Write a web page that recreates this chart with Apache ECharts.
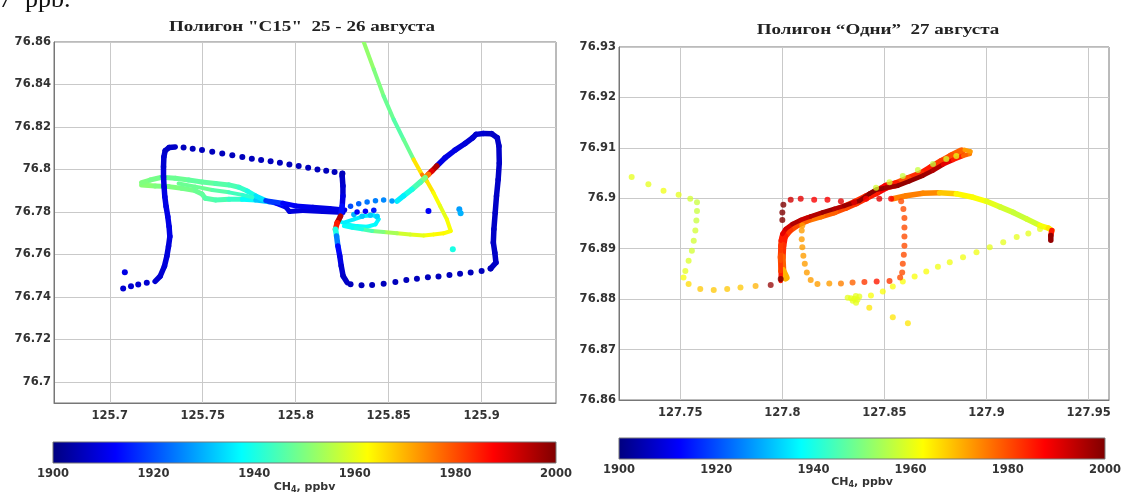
<!DOCTYPE html>
<html>
<head>
<meta charset="utf-8">
<script src="https://cdn.jsdelivr.net/npm/echarts@6/dist/echarts.min.js"></script>
<style>
  html, body { margin: 0; padding: 0; background: #fff; }
  #chart { width: 1124px; height: 498px; }
</style>
</head>
<body>
<div id="chart"></div>
<script>
// CH4 colour scale (jet) and its ticks
const JET = ['#00007f', '#0000ff', '#007fff', '#00ffff', '#7fff7f', '#ffff00', '#ff7f00', '#ff0000', '#7f0000'];
const CH4_MIN = 1900;
const CH4_MAX = 2000;
const CH4_TICKS = [1900, 1920, 1940, 1960, 1980, 2000];

// Axis ranges and ticks, polygon "C15"
const C15_LON_RANGE = [125.67, 125.94];
const C15_LAT_RANGE = [76.69, 76.86];
const C15_LON_TICKS = [125.7, 125.75, 125.8, 125.85, 125.9];
const C15_LAT_TICKS = [76.7, 76.72, 76.74, 76.76, 76.78, 76.8, 76.82, 76.84, 76.86];

// Axis ranges and ticks, polygon "Odni"
const ODNI_LON_RANGE = [127.72, 127.96];
const ODNI_LAT_RANGE = [76.86, 76.93];
const ODNI_LON_TICKS = [127.75, 127.8, 127.85, 127.9, 127.95];
const ODNI_LAT_TICKS = [76.86, 76.87, 76.88, 76.89, 76.9, 76.91, 76.92, 76.93];

// ---- Polygon "C15", 25-26 August: [lon, lat, CH4 ppbv] ----
const c15BandA = [
  [125.7171, 76.7938, 1950], [125.7217, 76.7950, 1950], [125.7280, 76.7963, 1949], [125.7352, 76.7958, 1948],
  [125.7424, 76.7950, 1948], [125.7496, 76.7941, 1947], [125.7569, 76.7934, 1947], [125.7641, 76.7927, 1946],
  [125.7695, 76.7916, 1945], [125.7740, 76.7898, 1943], [125.7785, 76.7875, 1940], [125.7839, 76.7853, 1935],
  [125.7930, 76.7841, 1918], [125.8002, 76.7828, 1912], [125.8092, 76.7822, 1911], [125.8182, 76.7816, 1910],
  [125.8264, 76.7809, 1910]
];
const c15BandB = [
  [125.7171, 76.7927, 1952], [125.7244, 76.7922, 1951], [125.7316, 76.7919, 1950], [125.7388, 76.7911, 1950],
  [125.7460, 76.7900, 1949], [125.7496, 76.7884, 1948], [125.7514, 76.7864, 1947], [125.7569, 76.7856, 1946],
  [125.7641, 76.7859, 1945], [125.7713, 76.7859, 1943], [125.7785, 76.7856, 1938], [125.7857, 76.7848, 1932],
  [125.7894, 76.7841, 1920], [125.7948, 76.7822, 1912], [125.7966, 76.7802, 1910], [125.8038, 76.7806, 1909],
  [125.8146, 76.7802, 1909], [125.8255, 76.7797, 1909]
];
const c15BandC = [
  [125.7370, 76.7934, 1949], [125.7460, 76.7919, 1948], [125.7551, 76.7903, 1948], [125.7641, 76.7892, 1946],
  [125.7713, 76.7880, 1944], [125.7767, 76.7869, 1942]
];
const c15Loop = [
  [125.8232, 76.7757, 1936], [125.8277, 76.7741, 1937], [125.8330, 76.7733, 1938], [125.8384, 76.7730, 1938],
  [125.8429, 76.7741, 1938], [125.8446, 76.7765, 1937], [125.8420, 76.7784, 1936], [125.8366, 76.7780, 1936],
  [125.8313, 76.7765, 1936], [125.8259, 76.7749, 1936]
];
const c15LoopDots = [
  [125.8518, 76.7851, 1928], [125.8473, 76.7856, 1926], [125.8429, 76.7853, 1925], [125.8384, 76.7846, 1924],
  [125.8339, 76.7838, 1922], [125.8295, 76.7827, 1920], [125.8313, 76.7788, 1930], [125.8357, 76.7780, 1932],
  [125.8402, 76.7784, 1932], [125.8438, 76.7780, 1933], [125.8330, 76.7800, 1912], [125.8375, 76.7803, 1912],
  [125.8420, 76.7808, 1915]
];
const c15Transit = [
  [125.8366, 76.8600, 1955], [125.8420, 76.8471, 1952], [125.8473, 76.8345, 1950], [125.8527, 76.8235, 1948],
  [125.8580, 76.8141, 1946], [125.8634, 76.8047, 1948], [125.8679, 76.7976, 1965], [125.8705, 76.7945, 1975],
  [125.8741, 76.7890, 1965], [125.8777, 76.7827, 1962], [125.8813, 76.7765, 1960], [125.8834, 76.7710, 1962],
  [125.8795, 76.7699, 1962], [125.8741, 76.7694, 1963], [125.8688, 76.7689, 1962], [125.8616, 76.7693, 1960],
  [125.8545, 76.7699, 1958], [125.8473, 76.7705, 1954], [125.8411, 76.7710, 1950], [125.8357, 76.7718, 1945],
  [125.8304, 76.7725, 1940], [125.8259, 76.7733, 1938]
];
const c15Start = [
  [125.7081, 76.7516, 1910], [125.7072, 76.7439, 1908], [125.7114, 76.7450, 1908], [125.7153, 76.7458, 1908],
  [125.7199, 76.7466, 1908]
];
const c15WestLeg = [
  [125.7244, 76.7473, 1908], [125.7271, 76.7497, 1908], [125.7294, 76.7544, 1908], [125.7307, 76.7591, 1909],
  [125.7316, 76.7638, 1909], [125.7323, 76.7684, 1909], [125.7319, 76.7731, 1910], [125.7312, 76.7778, 1910],
  [125.7303, 76.7825, 1910], [125.7296, 76.7872, 1910], [125.7292, 76.7919, 1910], [125.7289, 76.7966, 1909],
  [125.7289, 76.8013, 1909], [125.7291, 76.8059, 1908], [125.7298, 76.8088, 1908], [125.7319, 76.8103, 1907],
  [125.7352, 76.8106, 1907]
];
const c15NorthLeg = [
  [125.7397, 76.8103, 1906], [125.7446, 76.8097, 1906], [125.7496, 76.8091, 1906], [125.7551, 76.8083, 1906],
  [125.7605, 76.8075, 1906], [125.7659, 76.8067, 1906], [125.7713, 76.8058, 1906], [125.7764, 76.8050, 1906],
  [125.7814, 76.8044, 1906], [125.7865, 76.8038, 1906], [125.7915, 76.8031, 1906], [125.7966, 76.8023, 1906],
  [125.8016, 76.8016, 1906], [125.8067, 76.8008, 1906], [125.8117, 76.8000, 1906], [125.8164, 76.7994, 1906],
  [125.8209, 76.7988, 1906], [125.8251, 76.7981, 1906]
];
const c15CentreLeg = [
  [125.8251, 76.7981, 1906], [125.8250, 76.7969, 1906], [125.8254, 76.7922, 1907], [125.8254, 76.7875, 1908],
  [125.8250, 76.7827, 1910], [125.8241, 76.7780, 1914], [125.8223, 76.7749, 1995], [125.8214, 76.7718, 1985],
  [125.8220, 76.7686, 1940], [125.8227, 76.7639, 1925], [125.8237, 76.7592, 1913], [125.8245, 76.7545, 1910],
  [125.8255, 76.7498, 1908], [125.8277, 76.7467, 1907]
];
const c15SouthLeg = [
  [125.8295, 76.7459, 1906], [125.8354, 76.7454, 1906], [125.8411, 76.7456, 1906], [125.8473, 76.7462, 1906],
  [125.8536, 76.7470, 1906], [125.8595, 76.7479, 1906], [125.8652, 76.7485, 1906], [125.8711, 76.7492, 1906],
  [125.8768, 76.7496, 1906], [125.8827, 76.7503, 1906], [125.8884, 76.7509, 1906], [125.8941, 76.7515, 1906],
  [125.9000, 76.7522, 1906], [125.9048, 76.7533, 1906]
];
const c15EastLeg = [
  [125.9048, 76.7533, 1907], [125.9077, 76.7561, 1907], [125.9071, 76.7608, 1907], [125.9063, 76.7655, 1907],
  [125.9066, 76.7718, 1907], [125.9073, 76.7796, 1907], [125.9080, 76.7875, 1907], [125.9089, 76.7953, 1907],
  [125.9095, 76.8031, 1907], [125.9093, 76.8110, 1907], [125.9084, 76.8149, 1907], [125.9054, 76.8168, 1907],
  [125.9009, 76.8169, 1907], [125.8970, 76.8165, 1908], [125.8952, 76.8149, 1908], [125.8911, 76.8122, 1908],
  [125.8857, 76.8091, 1909], [125.8804, 76.8055, 1910], [125.8759, 76.8016, 1910], [125.8732, 76.7992, 1995],
  [125.8714, 76.7977, 1990], [125.8696, 76.7961, 1975], [125.8670, 76.7940, 1950], [125.8625, 76.7906, 1945],
  [125.8580, 76.7875, 1940], [125.8545, 76.7851, 1936]
];
const c15Spots = [
  [125.8714, 76.7804, 1912], [125.8880, 76.7812, 1928], [125.8887, 76.7793, 1930], [125.8845, 76.7624, 1940]
];

// ---- Polygon "Odni", 27 August: [lon, lat, CH4 ppbv] ----
const odniWestDots = [
  [127.7262, 76.9042, 1960], [127.7344, 76.9028, 1960], [127.7418, 76.9015, 1961], [127.7492, 76.9007, 1960],
  [127.7549, 76.8999, 1958], [127.7582, 76.8992, 1957], [127.7582, 76.8975, 1957], [127.7579, 76.8956, 1957],
  [127.7574, 76.8936, 1958], [127.7566, 76.8916, 1958], [127.7557, 76.8896, 1958], [127.7541, 76.8876, 1959],
  [127.7525, 76.8856, 1960], [127.7516, 76.8843, 1962], [127.7541, 76.8830, 1966], [127.7598, 76.8820, 1968],
  [127.7664, 76.8818, 1968], [127.7730, 76.8820, 1968], [127.7795, 76.8823, 1968], [127.7869, 76.8826, 1970],
  [127.7943, 76.8828, 1998]
];
const odniBoxDots = [
  [127.7992, 76.8840, 2000], [127.8000, 76.8957, 2000], [127.8000, 76.8972, 2000], [127.8005, 76.8987, 2000],
  [127.8041, 76.8997, 1992], [127.8090, 76.8999, 1990], [127.8156, 76.8997, 1988], [127.8221, 76.8997, 1988],
  [127.8287, 76.8994, 1990], [127.8352, 76.8992, 1990], [127.8410, 76.8999, 1988], [127.8475, 76.8999, 1990],
  [127.8533, 76.8999, 1988],
  [127.8582, 76.8994, 1980], [127.8593, 76.8979, 1980], [127.8598, 76.8961, 1980], [127.8598, 76.8942, 1980],
  [127.8598, 76.8924, 1980], [127.8598, 76.8906, 1980], [127.8595, 76.8888, 1980], [127.8590, 76.8870, 1980],
  [127.8587, 76.8853, 1980], [127.8577, 76.8843, 1980],
  [127.8525, 76.8836, 1982], [127.8462, 76.8835, 1985], [127.8402, 76.8834, 1982], [127.8344, 76.8833, 1978],
  [127.8287, 76.8831, 1975], [127.8230, 76.8831, 1972], [127.8172, 76.8830, 1972],
  [127.8139, 76.8838, 1972], [127.8120, 76.8853, 1972], [127.8110, 76.8870, 1972], [127.8103, 76.8886, 1972],
  [127.8098, 76.8903, 1972], [127.8095, 76.8919, 1972], [127.8095, 76.8936, 1972], [127.8098, 76.8946, 1972]
];
const odniTrackOrange = [
  [127.8877, 76.9093, 1975], [127.8828, 76.9083, 1978], [127.8779, 76.9072, 1980], [127.8730, 76.9060, 1982],
  [127.8680, 76.9048, 1985], [127.8615, 76.9038, 1983], [127.8557, 76.9028, 1980], [127.8508, 76.9023, 1985],
  [127.8459, 76.9012, 1988], [127.8410, 76.9002, 1985], [127.8361, 76.8992, 1983], [127.8311, 76.8983, 1982],
  [127.8254, 76.8974, 1980], [127.8189, 76.8966, 1978], [127.8123, 76.8958, 1976], [127.8074, 76.8949, 1978],
  [127.8033, 76.8937, 1980], [127.8008, 76.8924, 1982], [127.8000, 76.8906, 1985], [127.7997, 76.8883, 1983],
  [127.8000, 76.8856, 1978], [127.8016, 76.8843, 1970]
];
const odniTrackDark = [
  [127.7992, 76.8836, 1985], [127.7992, 76.8856, 1985], [127.7992, 76.8876, 1982], [127.7992, 76.8896, 1980],
  [127.7992, 76.8916, 1982], [127.8000, 76.8929, 1985], [127.8016, 76.8939, 1990], [127.8049, 76.8949, 1992],
  [127.8090, 76.8957, 1995], [127.8139, 76.8964, 1993], [127.8197, 76.8972, 1995], [127.8254, 76.8979, 1997],
  [127.8303, 76.8985, 1995], [127.8352, 76.8992, 1997], [127.8377, 76.8995, 1998], [127.8426, 76.9009, 1998],
  [127.8459, 76.9017, 1999], [127.8508, 76.9021, 1998], [127.8566, 76.9025, 1997], [127.8623, 76.9034, 1998],
  [127.8689, 76.9045, 1998], [127.8738, 76.9055, 1997], [127.8787, 76.9067, 1995], [127.8836, 76.9076, 1990],
  [127.8885, 76.9084, 1985], [127.8918, 76.9088, 1978], [127.8921, 76.9093, 1975], [127.8893, 76.9096, 1972]
];
const odniEastLine = [
  [127.8541, 76.8999, 1978], [127.8607, 76.9005, 1975], [127.8689, 76.9010, 1975], [127.8770, 76.9011, 1974],
  [127.8852, 76.9009, 1968], [127.8934, 76.9002, 1963], [127.9000, 76.8994, 1962], [127.9066, 76.8983, 1960],
  [127.9131, 76.8972, 1958], [127.9197, 76.8959, 1957], [127.9262, 76.8946, 1958], [127.9303, 76.8941, 1962],
  [127.9320, 76.8936, 1965], [127.9315, 76.8926, 1985], [127.9315, 76.8917, 1998]
];
const odniReturnDots = [
  [127.9262, 76.8939, 1960], [127.9205, 76.8930, 1960], [127.9148, 76.8923, 1960], [127.9082, 76.8913, 1960],
  [127.9016, 76.8903, 1960], [127.8951, 76.8893, 1961], [127.8885, 76.8883, 1961], [127.8820, 76.8873, 1961],
  [127.8762, 76.8864, 1961], [127.8705, 76.8855, 1962], [127.8648, 76.8845, 1962], [127.8590, 76.8835, 1962],
  [127.8541, 76.8825, 1962], [127.8492, 76.8815, 1962], [127.8434, 76.8807, 1962],
  [127.8377, 76.8805, 1960], [127.8360, 76.8806, 1960], [127.8352, 76.8801, 1960], [127.8336, 76.8802, 1960],
  [127.8320, 76.8803, 1960], [127.8345, 76.8797, 1960], [127.8361, 76.8793, 1960], [127.8368, 76.8799, 1960],
  [127.8426, 76.8783, 1965], [127.8541, 76.8764, 1965], [127.8615, 76.8752, 1965]
];
const odniUpperDots = [
  [127.8459, 76.9021, 1958], [127.8525, 76.9032, 1958], [127.8590, 76.9044, 1957], [127.8664, 76.9056, 1957],
  [127.8738, 76.9068, 1956], [127.8803, 76.9078, 1958], [127.8852, 76.9084, 1960]
];

// ---- helpers ----
const LABEL_FONT = { fontFamily: 'DejaVu Sans', fontWeight: 'bold', fontSize: 11.5, color: '#333' };

function fmt(v) { return String(+(+v).toFixed(3)); }

function geoAxis(gridIndex, range, ticks, margin) {
  return {
    type: 'value', gridIndex, min: range[0], max: range[1],
    axisLine: { show: true, onZero: false, lineStyle: { color: '#777', width: 1 } },
    axisTick: { show: false, customValues: ticks },
    axisLabel: Object.assign({ customValues: ticks, formatter: fmt, margin }, LABEL_FONT),
    splitLine: { show: true, lineStyle: { color: '#c9c9c9', width: 1 } }
  };
}

// continuous track: each point joined to the previous one, coloured by its CH4 value
function track(data, axis, width) {
  return {
    type: 'custom', xAxisIndex: axis, yAxisIndex: axis, clip: true, silent: true,
    encode: { x: 0, y: 1 }, data,
    renderItem(params, api) {
      const i = params.dataIndex;
      const prev = data[i > 0 ? i - 1 : i];
      const p = api.coord([api.value(0), api.value(1)]);
      const q = api.coord([prev[0], prev[1]]);
      return {
        type: 'line',
        shape: { x1: q[0], y1: q[1], x2: p[0], y2: p[1] },
        style: { stroke: api.visual('color'), lineWidth: width, lineCap: 'round' }
      };
    }
  };
}

// sampled fixes drawn as separate dots
function dots(data, axis, size, opacity) {
  return {
    type: 'scatter', xAxisIndex: axis, yAxisIndex: axis, silent: true,
    symbol: 'circle', symbolSize: size, data,
    itemStyle: { opacity: opacity }
  };
}

// colour bar drawn on its own CH4 axis
function colourBar(axis) {
  return {
    type: 'custom', xAxisIndex: axis, yAxisIndex: axis, silent: true,
    data: [[CH4_MIN, CH4_MAX]],
    renderItem(params, api) {
      const a = api.coord([api.value(0), 0]);
      const b = api.coord([api.value(1), 1]);
      return {
        type: 'rect',
        shape: { x: a[0], y: b[1], width: b[0] - a[0], height: a[1] - b[1] },
        style: {
          fill: {
            type: 'linear', x: 0, y: 0, x2: 1, y2: 0,
            colorStops: JET.map((c, k) => ({ offset: k / (JET.length - 1), color: c }))
          },
          stroke: '#777', lineWidth: 1
        }
      };
    }
  };
}

function ch4Axis(gridIndex, nameGap) {
  return {
    type: 'value', gridIndex, min: CH4_MIN, max: CH4_MAX, interval: 20,
    axisLine: { show: false },
    axisTick: { show: false, customValues: CH4_TICKS },
    axisLabel: Object.assign({ margin: 5, customValues: CH4_TICKS, formatter: v => String(v) }, LABEL_FONT),
    splitLine: { show: false },
    name: '{a|CH}{s|4}{a|, ppbv}', nameLocation: 'middle', nameGap,
    nameTextStyle: {
      rich: {
        a: { fontFamily: 'DejaVu Sans', fontWeight: 'bold', fontSize: 11, color: '#333', lineHeight: 14 },
        s: { fontFamily: 'DejaVu Sans', fontWeight: 'bold', fontSize: 8, color: '#333', lineHeight: 6, verticalAlign: 'bottom' }
      }
    }
  };
}

function barYAxis(gridIndex) {
  return { type: 'value', gridIndex, min: 0, max: 1, show: false };
}

const dataSeries = [
  // C15
  track(c15BandB, 0, 5),
  track(c15BandA, 0, 5),
  track(c15BandC, 0, 4),
  track(c15Loop, 0, 4),
  dots(c15LoopDots, 0, 5.5, 1),
  track(c15Transit, 0, 4),
  dots(c15Start, 0, 6, 1),
  track(c15WestLeg, 0, 5.5),
  dots(c15NorthLeg, 0, 6, 1),
  track(c15CentreLeg, 0, 5.5),
  dots(c15SouthLeg, 0, 6, 1),
  track(c15EastLeg, 0, 5.5),
  dots(c15Spots, 0, 6, 1),
  // Odni
  dots(odniWestDots, 1, 6, 0.75),
  dots(odniReturnDots, 1, 6, 0.75),
  dots(odniUpperDots, 1, 6, 0.75),
  dots(odniBoxDots, 1, 6, 0.8),
  track(odniEastLine, 1, 5.5),
  track(odniTrackOrange, 1, 8),
  track(odniTrackDark, 1, 4.5)
];

const option = {
  animation: false,
  backgroundColor: '#fff',
  grid: [
    { left: 54, top: 42, width: 502, height: 361, show: true, borderColor: '#777', borderWidth: 1 },
    { left: 619, top: 47, width: 490, height: 353, show: true, borderColor: '#777', borderWidth: 1 },
    { left: 53, top: 442, width: 503, height: 21 },
    { left: 619, top: 438, width: 490, height: 21 }
  ],
  xAxis: [
    geoAxis(0, C15_LON_RANGE, C15_LON_TICKS, 7),
    geoAxis(1, ODNI_LON_RANGE, ODNI_LON_TICKS, 7),
    ch4Axis(2, 17),
    ch4Axis(3, 14)
  ],
  yAxis: [
    geoAxis(0, C15_LAT_RANGE, C15_LAT_TICKS, 3),
    geoAxis(1, ODNI_LAT_RANGE, ODNI_LAT_TICKS, 3),
    barYAxis(2),
    barYAxis(3)
  ],
  visualMap: {
    type: 'continuous', show: false, min: CH4_MIN, max: CH4_MAX, dimension: 2,
    seriesIndex: dataSeries.map((s, k) => k),
    inRange: { color: JET }
  },
  graphic: [
    {
      type: 'text', x: 302, y: 27, scaleX: 1.36, silent: true,
      style: { text: 'Полигон "C15"  25 - 26 августа', font: 'bold 14px "Liberation Serif"', fill: '#222', align: 'center', verticalAlign: 'middle' }
    },
    {
      type: 'text', x: 878, y: 30, scaleX: 1.36, silent: true,
      style: { text: 'Полигон “Одни”  27 августа', font: 'bold 14px "Liberation Serif"', fill: '#222', align: 'center', verticalAlign: 'middle' }
    },
    {
      type: 'text', x: -1, y: 13, silent: true,
      style: { text: '7  ppb.', font: '26px "Liberation Serif"', fill: '#111', align: 'left', verticalAlign: 'bottom' }
    }
  ],
  series: dataSeries.concat([colourBar(2), colourBar(3)])
};

const chart = echarts.init(document.getElementById('chart'));
chart.setOption(option);
</script>
</body>
</html>
